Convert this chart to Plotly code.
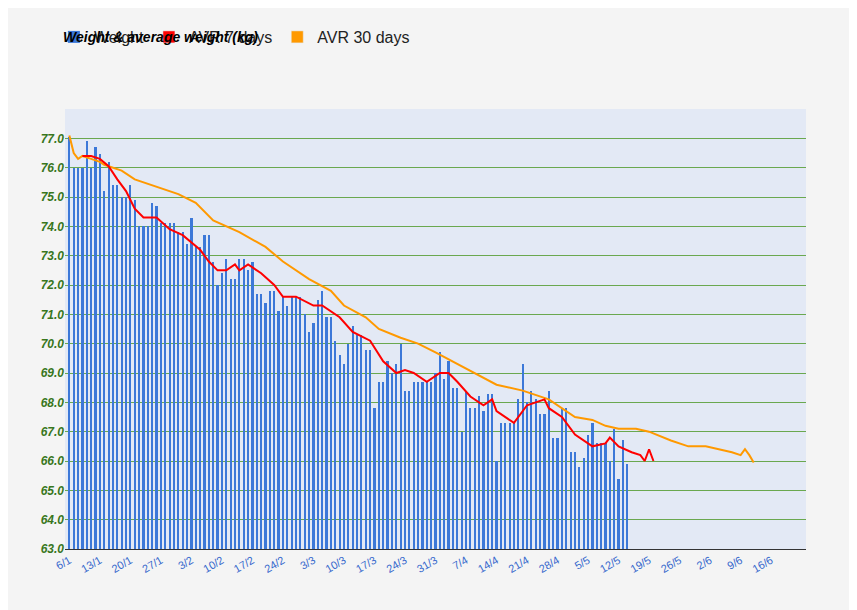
import datetime as dt
import plotly.graph_objects as go

start = dt.date(2015, 1, 6)

# daily weight, one value per day starting 6/1
weight = [77.05, 76.0, 76.0, 76.0, 76.9, 76.0, 76.7, 76.45, 75.2, 76.2,
          75.4, 75.4, 75.0, 75.0, 75.4, 74.9, 74.0, 74.0, 74.0, 74.8,
          74.7, 74.1, 74.1, 74.1, 74.1, 73.8, 73.8, 73.4, 74.3, 73.3,
          73.3, 73.7, 73.7, 72.8, 72.0, 72.4, 72.9, 72.2, 72.2, 72.9,
          72.9, 72.5, 72.8, 71.7, 71.7, 71.4, 71.8, 71.8, 71.1, 71.6,
          71.3, 71.6, 71.6, 71.6, 71.0, 70.4, 70.7, 71.5, 71.8, 70.9,
          70.9, 70.1, 69.6, 69.3, 70.0, 70.6, 70.3, 70.3, 69.8, 69.8,
          67.8, 68.7, 68.7, 69.4, 69.0, 69.3, 70.0, 68.4, 68.4, 68.7,
          68.7, 68.7, 68.7, 68.7, 69.0, 69.7, 68.8, 69.4, 68.5, 68.5,
          67.0, 68.4, 67.8, 67.8, 68.2, 67.7, 68.3, 68.3, 66.0, 67.3,
          67.3, 67.3, 67.3, 68.1, 69.3, 68.0, 68.4, 68.1, 67.6, 67.6,
          68.4, 66.8, 66.8, 67.8, 67.8, 66.3, 66.3, 65.8, 66.1, 66.9,
          67.3, 66.6, 66.6, 66.6, 66.0, 67.1, 65.4, 66.7, 65.9]

avr7_days = [3, 5, 7, 9, 11, 13, 15, 17, 20, 23, 26, 30, 32, 34, 36, 38, 39,
             41, 44, 47, 49, 52, 56, 58, 62, 65, 69, 72, 75, 77, 79, 82, 85,
             87, 89, 92, 95, 97, 98, 101, 102, 105, 109, 110, 113, 116, 120,
             123, 124, 126, 129, 131, 132, 133, 134]
avr7 = [76.4, 76.4, 76.3, 76.05, 75.6, 75.2, 74.6, 74.3, 74.3, 73.9, 73.7,
        73.2, 72.8, 72.5, 72.5, 72.7, 72.5, 72.7, 72.4, 72.0, 71.6, 71.6,
        71.3, 71.3, 70.9, 70.4, 70.1, 69.4, 69.0, 69.1, 69.0, 68.7, 69.0,
        69.0, 68.7, 68.2, 67.9, 68.1, 67.7, 67.4, 67.3, 67.9, 68.1, 67.8,
        67.5, 66.9, 66.5, 66.6, 66.8, 66.5, 66.3, 66.2, 66.0, 66.4, 66.0]

avr30_days = [0, 1.5, 2.5, 3.3, 5, 7, 8, 10.5, 12.5, 15, 17, 21, 25, 29, 33,
              39, 45, 49, 55, 60, 63, 68, 71, 76, 80, 84, 89, 94, 98, 104,
              110, 116, 120, 123, 126, 130, 133, 138, 142, 146, 149, 152,
              154, 155, 156, 157]
avr30 = [77.1, 76.5, 76.3, 76.4, 76.3, 76.2, 76.1, 76.0, 75.9, 75.6, 75.5,
         75.3, 75.1, 74.8, 74.2, 73.8, 73.3, 72.8, 72.2, 71.8, 71.3, 70.9,
         70.5, 70.2, 70.0, 69.7, 69.3, 68.9, 68.6, 68.4, 68.1, 67.5, 67.4,
         67.2, 67.1, 67.1, 67.0, 66.7, 66.5, 66.5, 66.4, 66.3, 66.2, 66.4,
         66.2, 65.95]

tick_days = list(range(0, 162, 7))


def to_date(d):
    return start + dt.timedelta(days=d)


tick_vals = [to_date(d) for d in tick_days]
tick_text = [f"{t.day}/{t.month}" for t in tick_vals]

fig = go.Figure()
fig.add_trace(go.Bar(
    x=[to_date(i) for i in range(len(weight))], y=[w - 63 for w in weight],
    base=63, name="Weight", marker_color="#3c78d8",
    marker_line_width=0, width=0.5 * 86400000,
))
fig.add_trace(go.Scatter(
    x=[to_date(d) for d in avr30_days], y=avr30, mode="lines",
    line=dict(color="#ff9900", width=2), showlegend=False,
))
fig.add_trace(go.Scatter(
    x=[to_date(d) for d in avr7_days], y=avr7, mode="lines",
    line=dict(color="#ff0000", width=2), showlegend=False,
))
# legend squares for the lines
for nm, col in [("AVR 7 days", "#ff0000"), ("AVR 30 days", "#ff9900")]:
    fig.add_trace(go.Bar(x=[None], y=[None], name=nm, marker_color=col))

fig.update_layout(
    width=857, height=610,
    paper_bgcolor="#f4f4f4", plot_bgcolor="#e3e9f5",
    margin=dict(l=57, r=59, t=77, b=69),
    font=dict(family="Arial, Liberation Sans", size=13, color="#222"),
    annotations=[dict(
        text="<b><i>Weight & average weight (kg)</i></b>",
        xref="paper", yref="paper", x=-0.005, y=1.14,
        xanchor="left", yanchor="bottom", showarrow=False,
        font=dict(size=14, color="#000"),
    )],
    legend=dict(orientation="h", x=-0.015, y=1.125, xanchor="left",
                yanchor="bottom", font=dict(size=16, color="#222"),
                traceorder="normal"),
    bargap=0,
    showlegend=True,
)
fig.update_xaxes(
    type="date", range=[to_date(-0.5), to_date(169.5)],
    tickvals=tick_vals, ticktext=tick_text, tickangle=-30,
    tickfont=dict(size=11, color="#3366cc", family="Arial"),
    showgrid=False, showline=True, linecolor="#333", ticks="",
)
fig.update_yaxes(
    range=[63, 78],
    tickvals=list(range(63, 78)),
    ticktext=[f"<b><i>{v:.1f}</i></b>" for v in range(63, 78)],
    tickfont=dict(size=12, color="#38761d", family="Arial"),
    gridcolor="#6aa84f", gridwidth=1, zeroline=False,
)
fig.write_html("out.html")
